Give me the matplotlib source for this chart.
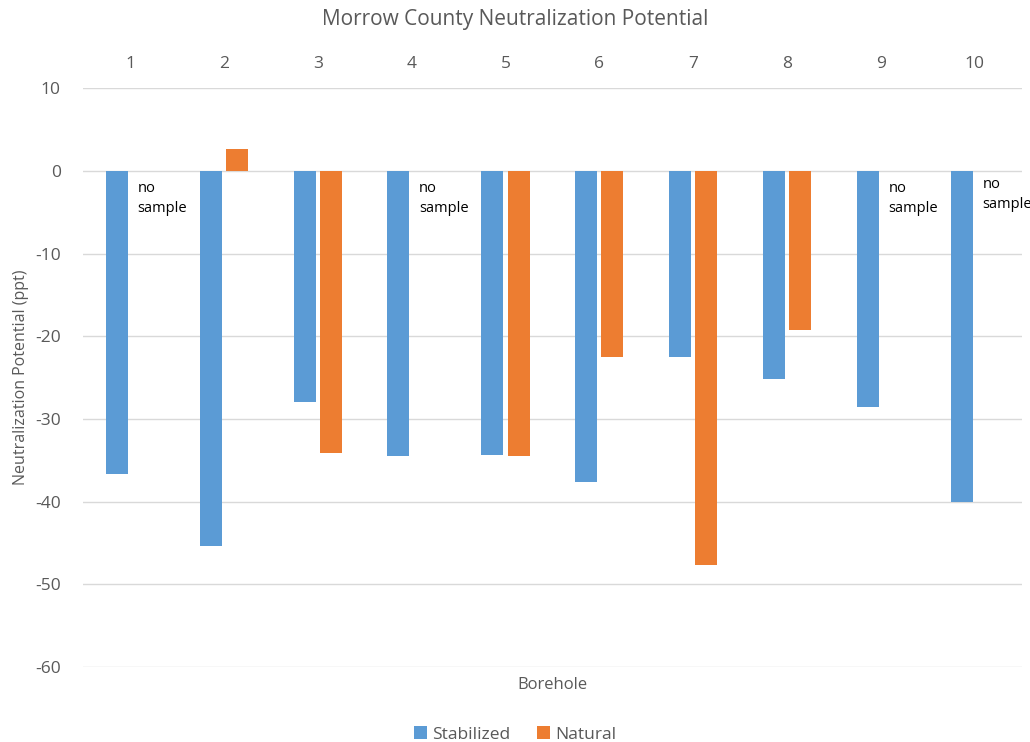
import matplotlib.pyplot as plt
import numpy as np

boreholes = ['1', '2', '3', '4', '5', '6', '7', '8', '9', '10']
stabilized = [-36.7, -45.3, -27.9, -34.5, -34.3, -37.6, -22.5, -25.2, -28.5, -40.0]
natural = [None, 2.6, -34.1, None, -34.5, -22.5, -47.6, -19.2, None, None]
no_sample = ['1', '4', '9', '10']

blue = '#5B9BD5'
orange = '#ED7D31'
grey = '#595959'

plt.rcParams['font.family'] = ['Open Sans', 'DejaVu Sans']
plt.rcParams['axes.unicode_minus'] = False

fig = plt.figure(figsize=(10.3, 7.42), dpi=100)
ax = fig.add_axes([0.0806, 0.101, 0.9114, 0.78])

x = np.arange(len(boreholes))
w = 0.235
nat = np.array([np.nan if v is None else v for v in natural])
ax.bar(x - 0.14, stabilized, w, color=blue, label='Stabilized', zorder=3)
ax.bar(x + 0.14, nat, w, color=orange, label='Natural', zorder=3)

for b in no_sample:
    i = boreholes.index(b)
    dy = -0.7 if b == '10' else -1.2
    ax.text(i + 0.08, dy, 'no\nsample', fontsize=10.5, va='top', ha='left',
            color='black', linespacing=1.5)

ax.set_xlim(-0.5, len(boreholes) - 0.5)
ax.set_ylim(-60, 10)
ax.set_yticks(range(-60, 11, 10))
ax.set_xticks(x)
ax.set_xticklabels(boreholes)
ax.xaxis.tick_top()
ax.tick_params(axis='both', length=0, labelsize=12.5, colors=grey, pad=16)
ax.tick_params(axis='x', pad=12)
ax.grid(axis='y', color='#d9d9d9', linewidth=1, zorder=0)
for s in ax.spines.values():
    s.set_visible(False)

ax.set_ylabel('Neutralization Potential (ppt)', fontsize=11.5, color=grey, labelpad=4)
ax.text(0.5, -0.018, 'Borehole', transform=ax.transAxes, ha='center', va='top',
        fontsize=12, color=grey)
fig.suptitle('Morrow County Neutralization Potential', y=0.988, fontsize=15, color=grey)
fig.legend(loc='lower center', ncol=2, frameon=False, fontsize=12.5,
           bbox_to_anchor=(0.5, -0.022), handlelength=0.75, handleheight=0.75,
           handletextpad=0.3, columnspacing=1.5, labelcolor=grey)

fig.savefig('out.png', dpi=100)
